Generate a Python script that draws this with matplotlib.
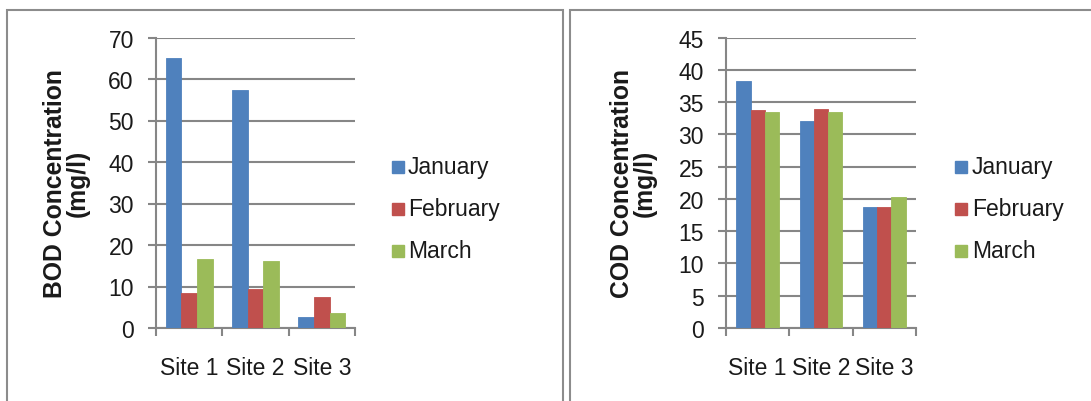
import numpy as np
import matplotlib
matplotlib.use("Agg")
import matplotlib.pyplot as plt
from matplotlib.patches import Rectangle

plt.rcParams['font.family'] = ['Liberation Sans', 'DejaVu Sans']

sites = ["Site 1", "Site 2", "Site 3"]
months = ["January", "February", "March"]
colors = ["#4F81BD", "#C0504D", "#9BBB59"]

# BOD (mg/l) per month, one value per site
bod_jan = [65.0, 57.3, 2.7]
bod_feb = [8.4, 9.5, 7.5]
bod_mar = [16.6, 16.1, 3.6]

# COD (mg/l) per month, one value per site
cod_jan = [38.2, 32.1, 18.8]
cod_feb = [33.7, 33.9, 18.7]
cod_mar = [33.5, 33.5, 20.3]

W, H = 1091, 402
fig = plt.figure(figsize=(W / 100, H / 100), dpi=100)
fig.patch.set_facecolor("white")
TXT = "#1a1a1a"


def px_axes(x0, x1, y0, y1):
    ax = fig.add_axes([x0 / W, 1 - y1 / H, (x1 - x0) / W, (y1 - y0) / H])
    ax.px_left, ax.px_w = x0, x1 - x0
    return ax


def bar_panel(ax, series, ymax, step, ylabel, bw, label_x, leg_x, leg_text_x):
    x = np.arange(len(sites))
    for i, (vals, c) in enumerate(zip(series, colors)):
        ax.bar(x + (i - 1) * bw, vals, bw, color=c, edgecolor=c, linewidth=0.6,
               zorder=3, label=months[i])
    ax.set_xlim(-0.5, len(sites) - 0.5)
    ax.set_ylim(0, ymax)
    ax.set_yticks(np.arange(0, ymax + 0.1, step))
    ax.yaxis.grid(True, color="#868686", linewidth=1.5, zorder=0)
    ax.set_axisbelow(True)
    for s in ["top", "right"]:
        ax.spines[s].set_visible(False)
    for s in ["left", "bottom"]:
        ax.spines[s].set_color("#868686")
        ax.spines[s].set_linewidth(1.5)
    ax.set_xticks(x)
    ax.set_xticklabels(sites, fontsize=16.5, color=TXT)
    ax.set_xticks(np.arange(-0.5, len(sites)), minor=True)
    ax.tick_params(axis="x", which="major", length=0, pad=20)
    ax.tick_params(axis="x", which="minor", length=6, width=1.5, color="#868686")
    ax.tick_params(axis="y", length=6, width=1.5, color="#868686", labelsize=16.5,
                   labelcolor=TXT, pad=10)
    ax.set_ylabel(ylabel, fontsize=17.8, fontweight="bold", linespacing=0.95, color=TXT)
    ax.yaxis.set_label_coords((label_x - ax.px_left) / ax.px_w, 0.5)

    # legend drawn as coloured squares with names
    for i, (m, c) in enumerate(zip(months, colors)):
        yy = 168 + i * 42
        fig.add_artist(Rectangle((leg_x / W, 1 - (yy + 6) / H), 12 / W, 12 / H,
                                 transform=fig.transFigure, color=c))
        fig.text(leg_text_x / W, 1 - yy / H, m, fontsize=16.5, va="center",
                 color=TXT)


ax1 = px_axes(156, 355, 38.5, 329)
bar_panel(ax1, [bod_jan, bod_feb, bod_mar], 70, 10,
          "BOD Concentration\n(mg/l)", 0.236, 90, 392, 408)

ax2 = px_axes(726, 916, 38.5, 329)
bar_panel(ax2, [cod_jan, cod_feb, cod_mar], 45, 5,
          "COD Concentration\n(mg/l)", 0.225, 657, 955, 972)

# chart frames
for x0, x1 in [(7, 563), (570, 1100)]:
    fig.add_artist(Rectangle((x0 / W, -0.1), (x1 - x0) / W, 1 - 11 / H + 0.1,
                             transform=fig.transFigure, fill=False,
                             edgecolor="#8c8c8c", linewidth=1.5))

fig.savefig("out.png", dpi=100)
